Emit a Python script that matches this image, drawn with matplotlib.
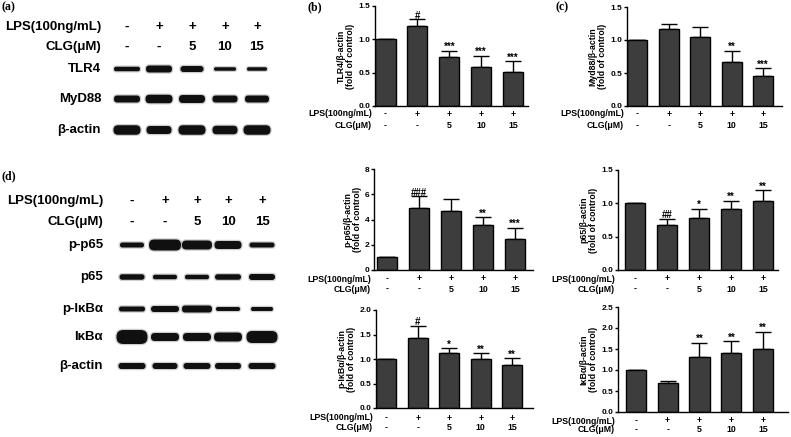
import matplotlib
matplotlib.use("Agg")
import matplotlib.pyplot as plt
from matplotlib.patches import FancyBboxPatch

plt.rcParams['font.family'] = ['Liberation Sans', 'DejaVu Sans']
plt.rcParams['font.weight'] = 'bold'
plt.rcParams['axes.labelweight'] = 'bold'

W, H = 791, 437

# 0. data
lps = ['-', '+', '+', '+', '+']
clg = ['-', '-', '5', '10', '15']

tlr4 = [1.0, 1.20, 0.74, 0.58, 0.515]
tlr4_err = [0, 0.10, 0.09, 0.175, 0.16]
tlr4_sig = ['', '#', '***', '***', '***']

myd88 = [1.0, 1.16, 1.05, 0.67, 0.45]
myd88_err = [0, 0.09, 0.14, 0.17, 0.12]
myd88_sig = ['', '', '', '**', '***']

pp65 = [1.0, 4.95, 4.66, 3.55, 2.47]
pp65_err = [0, 0.89, 1.0, 0.61, 0.87]
pp65_sig = ['', '###', '', '**', '***']

p65 = [1.0, 0.68, 0.78, 0.91, 1.04]
p65_err = [0, 0.09, 0.14, 0.13, 0.16]
p65_sig = ['', '##', '*', '**', '**']

pikba = [1.0, 1.43, 1.13, 1.01, 0.88]
pikba_err = [0, 0.25, 0.09, 0.11, 0.14]
pikba_sig = ['', '#', '*', '**', '**']

ikba = [1.0, 0.70, 1.32, 1.40, 1.51]
ikba_err = [0, 0.05, 0.33, 0.28, 0.40]
ikba_sig = ['', '', '**', '**', '**']

# western blot band sizes (width, thickness) per lane
blot_a = {
    'TLR4': ([26, 26, 23, 22, 20], [4.5, 7, 6, 3.5, 3.5]),
    'MyD88': ([26, 27, 26, 25, 24], [7, 8.5, 8, 7, 7]),
    'β-actin': ([27, 25, 27, 25, 27], [9.5, 8, 9.5, 8.5, 9.5]),
}
blot_d = {
    'p-p65': ([24, 32, 30, 27, 25], [5, 11, 9, 8, 5]),
    'p65': ([25, 24, 24, 26, 26], [5.5, 4.5, 4.5, 5.5, 6]),
    'p-IκBα': ([26, 28, 30, 24, 22], [5, 6, 7, 4, 4]),
    'IκBα': ([31, 28, 28, 28, 31], [14, 8, 8, 9, 12]),
    'β-actin': ([27, 25, 27, 26, 27], [6, 6, 6, 6, 6]),
}

# 1. canvas
fig = plt.figure(figsize=(W / 100, H / 100), dpi=100)
bg = fig.add_axes([0, 0, 1, 1])
bg.set_xlim(0, W)
bg.set_ylim(H, 0)
bg.axis('off')


def band(x, y, w, h):
    for grow, col, a in [(2.5, '#777777', 0.35), (0, '#101010', 1.0)]:
        ww, hh = w + grow, h + grow
        r = hh / 2 * 0.95
        bg.add_patch(FancyBboxPatch((x - ww / 2, y - hh / 2), ww, hh,
                                    boxstyle='round,pad=0,rounding_size=%f' % r,
                                    fc=col, ec='none', alpha=a))


def draw_blot(lanes, label_x, y_lps, y_clg, rows, row_y):
    bg.text(label_x, y_lps, 'LPS(100ng/mL)', ha='right', va='center', fontsize=9.5)
    bg.text(label_x, y_clg, 'CLG(μM)', ha='right', va='center', fontsize=9.5)
    for x, a, b in zip(lanes, lps, clg):
        bg.text(x, y_lps, a, ha='center', va='center', fontsize=9.5)
        bg.text(x, y_clg, b, ha='center', va='center', fontsize=9.5)
    for (name, (ws, hs)), y in zip(rows.items(), row_y):
        bg.text(label_x, y, name, ha='right', va='center', fontsize=9.5)
        for x, w, h in zip(lanes, ws, hs):
            band(x, y, w, h)


draw_blot([127, 159, 192, 225, 257], 101, 27, 47, blot_a, [69, 99, 130])
draw_blot([132, 165, 197, 228, 262], 103, 201, 222, blot_d, [245, 277, 309, 337, 366])

for s, x, y in [('(a)', 2, 7), ('(b)', 308, 7), ('(c)', 555, 7), ('(d)', 2, 176)]:
    bg.text(x, y, s, ha='left', va='center', fontsize=8.5, fontweight='bold',
            family=['Liberation Serif'])


# 2. bar charts
def bar_panel(box, xl, vals, errs, sig, ylabel, ymax, yticks, tick_fmt, row_off):
    l, t, r, b = box
    ax = fig.add_axes([l / W, 1 - b / H, (r - l) / W, (b - t) / H])
    x = range(len(vals))
    ax.bar(x, vals, width=0.63, color='#3d3d3d', edgecolor='black', linewidth=1.0, zorder=2)
    ax.errorbar(x, vals, yerr=[[0] * len(vals), errs], fmt='none', ecolor='black',
                elinewidth=1.0, capsize=5.5, capthick=1.0, zorder=1)
    for i, (v, e, s) in enumerate(zip(vals, errs, sig)):
        if s:
            ax.annotate(s, xy=(i, v + e), xytext=(0, -1), textcoords='offset points',
                        ha='center', va='bottom', fontsize=7)
    ax.set_xlim(*xl)
    ax.set_ylim(0, ymax)
    ax.set_yticks(yticks)
    ax.set_yticklabels([tick_fmt.format(v) for v in yticks])
    ax.set_xticks([])
    for sp in ['top', 'right']:
        ax.spines[sp].set_visible(False)
    for sp in ['left', 'bottom']:
        ax.spines[sp].set_linewidth(1.0)
    ax.tick_params(axis='y', length=2.5, width=1.0, pad=1, labelsize=6)
    ax.set_ylabel(ylabel, fontsize=6.3, labelpad=2, linespacing=1.1)
    ax.set_facecolor('none')
    # x labels
    for i in x:
        ax.annotate(lps[i], xy=(i, 0), xycoords=('data', 'axes fraction'),
                    xytext=(0, -row_off[0]), textcoords='offset pixels',
                    ha='center', va='center', fontsize=6.3)
        ax.annotate(clg[i], xy=(i, 0), xycoords=('data', 'axes fraction'),
                    xytext=(0, -row_off[1]), textcoords='offset pixels',
                    ha='center', va='center', fontsize=6.3)
    ax.annotate('LPS(100ng/mL)', xy=(0, 0), xycoords='axes fraction',
                xytext=(-3, -row_off[0]), textcoords='offset pixels',
                ha='right', va='center', fontsize=6.3)
    ax.annotate('CLG(μM)', xy=(0, 0), xycoords='axes fraction',
                xytext=(-3, -row_off[1]), textcoords='offset pixels',
                ha='right', va='center', fontsize=6.3)
    return ax


t15 = [0, 0.5, 1.0, 1.5]
bar_panel([375, 6, 528, 106], (-0.33, 4.47), tlr4, tlr4_err, tlr4_sig,
          'TLR4/β-actin\n(fold of control)', 1.5, t15, '{:.1f}', (8, 20))
bar_panel([627, 7, 782, 106], (-0.33, 4.6), myd88, myd88_err, myd88_sig,
          'Myd88/β-actin\n(fold of control)', 1.5, t15, '{:.1f}', (8, 20))
bar_panel([374, 169, 533, 270], (-0.42, 4.56), pp65, pp65_err, pp65_sig,
          'p-p65/β-actin\n(fold of control)', 8, [0, 2, 4, 6, 8], '{:.0f}', (9, 19))
bar_panel([618, 170, 778, 270], (-0.53, 4.47), p65, p65_err, p65_sig,
          'p65/β-actin\n(fold of control)', 1.5, t15, '{:.1f}', (9, 19))
bar_panel([376, 310, 533, 408], (-0.33, 4.66), pikba, pikba_err, pikba_sig,
          'p-IκBα/β-actin\n(fold of control)', 2.0, [0, 0.5, 1.0, 1.5, 2.0], '{:.1f}', (10, 20))
bar_panel([618, 307, 788, 412], (-0.56, 4.78), ikba, ikba_err, ikba_sig,
          'IκBα/β-actin\n(fold of control)', 2.5, [0, 0.5, 1.0, 1.5, 2.0, 2.5], '{:.1f}', (9, 18))

# 3. save
fig.savefig('out.png', dpi=100)
